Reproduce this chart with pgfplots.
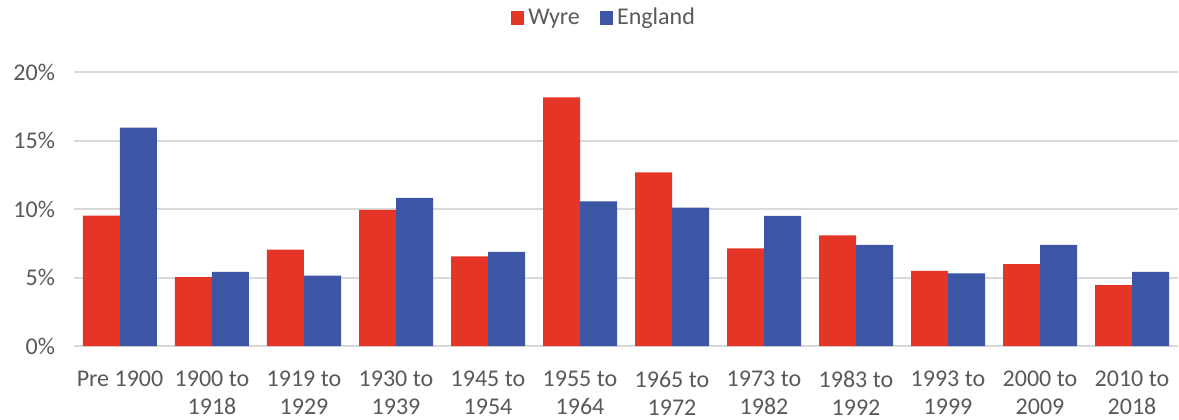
\documentclass[border=0pt]{standalone}
\usepackage{pgfplots}
\pgfplotsset{compat=1.18}
\usepackage{fontspec}
\setmainfont{Carlito}
\definecolor{wyre}{HTML}{E53527}
\definecolor{eng}{HTML}{3C55A5}
\definecolor{gridc}{HTML}{D9D9D9}
\definecolor{txt}{HTML}{595959}
\begin{document}
\begin{tikzpicture}
\useasboundingbox (-37pt,-36.5pt) rectangle (552.5pt,173pt);
\begin{axis}[
  scale only axis,
  width=552pt, height=137pt,
  at={(0pt,0pt)}, anchor=south west,
  ybar=0pt, bar width=18.5pt,
  xmin=-0.5, xmax=11.5, ymin=0, ymax=20,
  xtick=data,
  xticklabels={{Pre 1900},{1900 to\\1918},{1919 to\\1929},{1930 to\\1939},{1945 to\\1954},{1955 to\\1964},{1965 to\\1972},{1973 to\\1982},{1983 to\\1992},{1993 to\\1999},{2000 to\\2009},{2010 to\\2018}},
  xticklabel style={align=center, font=\fontsize{12}{14}\selectfont, text=txt, yshift=-9pt},
  ytick={0,5,10,15,20},
  yticklabels={0\%,5\%,10\%,15\%,20\%},
  yticklabel style={font=\fontsize{12}{14}\selectfont, text=txt, xshift=-6pt},
  major tick length=0pt,
  ymajorgrids, grid style={gridc, line width=1pt},
  axis line style={draw=none},
  axis x line*=bottom, axis y line*=left,
  legend style={at={(0.481,1.197)}, anchor=center, draw=none, fill=none,
    legend columns=2, font=\fontsize{12}{14}\selectfont, text=txt,
    /tikz/every even column/.append style={column sep=8pt}},
  legend image code/.code={\fill[#1] (0pt,-3.3pt) rectangle (6.6pt,3.3pt);},
]
\addplot[fill=wyre, draw=none] coordinates {(0,9.52) (1,5.02) (2,7.03) (3,9.93) (4,6.55) (5,18.14) (6,12.68) (7,7.13) (8,8.07) (9,5.48) (10,5.97) (11,4.44)};
\addplot[fill=eng, draw=none] coordinates {(0,15.94) (1,5.41) (2,5.14) (3,10.82) (4,6.88) (5,10.56) (6,10.10) (7,9.49) (8,7.39) (9,5.31) (10,7.39) (11,5.41)};
\legend{Wyre, England}
\end{axis}
\end{tikzpicture}
\end{document}
